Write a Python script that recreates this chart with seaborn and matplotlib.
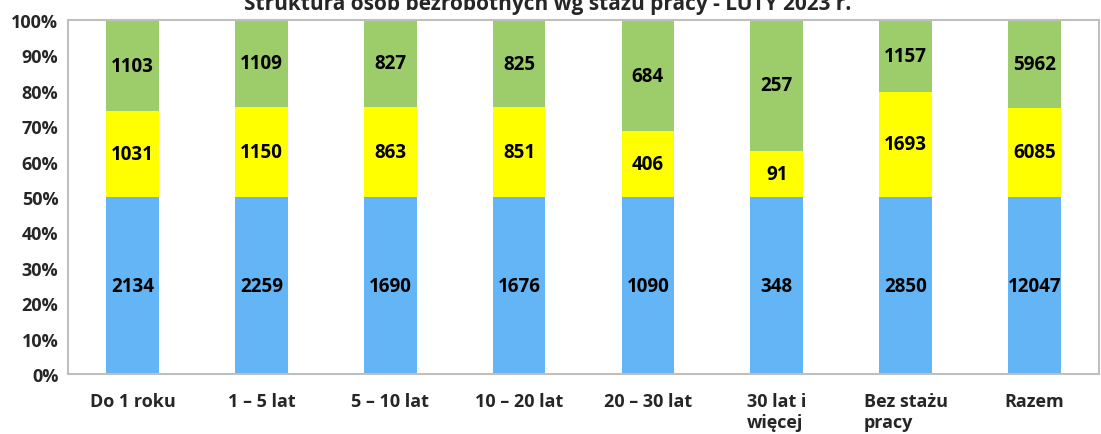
import pandas as pd
import seaborn as sns
import matplotlib.pyplot as plt

# Data
categories = ['Do 1 roku', '1 – 5 lat', '5 – 10 lat', '10 – 20 lat', '20 – 30 lat',
              '30 lat i\nwięcej', 'Bez stażu\npracy', 'Razem']
total = [2134, 2259, 1690, 1676, 1090, 348, 2850, 12047]
yellow_vals = [1031, 1150, 863, 851, 406, 91, 1693, 6085]
green_vals = [1103, 1109, 827, 825, 684, 257, 1157, 5962]

df = pd.DataFrame({'cat': categories, 'blue': total, 'yellow': yellow_vals, 'green': green_vals})
den = df['blue'] + df['yellow'] + df['green']
df['p_blue'] = df['blue'] / den * 100
df['p_yellow'] = df['yellow'] / den * 100
df['p_green'] = df['green'] / den * 100

sns.set_style('white')
plt.rcParams['font.family'] = ['Open Sans', 'DejaVu Sans']

fig, ax = plt.subplots(figsize=(11.01, 4.35), dpi=100)
fig.subplots_adjust(left=68/1101, right=1099/1101, top=1 - 21/435, bottom=60/435)

colors = {'blue': '#63B5F5', 'yellow': '#FFFF00', 'green': '#9DCC6A'}
bottom = pd.Series(0.0, index=df.index)
for key in ['blue', 'yellow', 'green']:
    sns.barplot(data=df, x='cat', y='p_' + key, color=colors[key], width=0.41,
                bottom=bottom, saturation=1, ax=ax, linewidth=0)
    # value labels centered in each segment
    for i, (v, p, b) in enumerate(zip(df[key], df['p_' + key], bottom)):
        ax.text(i, b + p / 2, f'{v}', ha='center', va='center',
                fontsize=13.5, fontweight='bold', color='black')
    bottom = bottom + df['p_' + key]

ax.set_xlim(-0.5, 7.5)
ax.set_ylim(0, 100)
ax.set_yticks(range(0, 101, 10))
ax.set_yticklabels([f'{t}%' for t in range(0, 101, 10)], fontsize=13, fontweight='bold')
ax.set_xticks(range(len(categories)))
ax.set_xticklabels(categories, fontsize=13, fontweight='bold', multialignment='left',
                   linespacing=1.2)
ax.tick_params(axis='both', length=0)
ax.tick_params(axis='x', pad=13)
ax.tick_params(axis='y', pad=7)
ax.set_xlabel('')
ax.set_ylabel('')
for s in ax.spines.values():
    s.set_visible(True)
    s.set_color('#BFBFBF')
    s.set_linewidth(1.5)

# title is partly cut at the top edge, as in the original
fig.text(548/1101, 1 - 10/435, 'Struktura osób bezrobotnych wg stażu pracy - LUTY 2023 r.',
         ha='center', va='baseline', fontsize=15, fontweight='bold')

plt.savefig('out.png', dpi=100)
